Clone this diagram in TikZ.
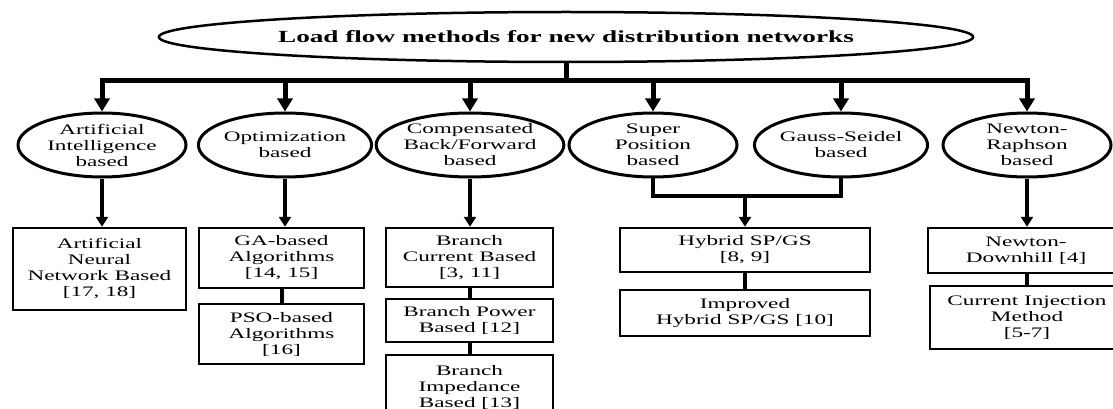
\documentclass[tikz,border=0pt]{standalone}
\usepackage{fontspec}
\setmainfont[FakeStretch=1.6]{Liberation Serif}
\newfontfamily\lf[FakeStretch=1.6]{Liberation Serif}
\usetikzlibrary{shapes.geometric,arrows.meta}
\tikzset{
  titlebox/.style={ellipse, draw, line width=2.5pt, minimum width=800pt, minimum height=50pt, inner sep=0pt,
    font=\fontsize{17}{20}\selectfont\lf\bfseries},
  lvl/.style={ellipse, draw, line width=3pt, minimum width=168pt, minimum height=64pt, inner sep=0pt,
    align=center, font=\fontsize{14.5}{16}\selectfont\lf},
  leaf/.style={rectangle, draw, line width=2.5pt, inner sep=0pt, align=center,
    font=\fontsize{14.5}{16}\selectfont\lf},
  bus/.style={line width=5pt, line cap=rect},
  bigarrow/.style={line width=5pt, -{Triangle[width=15pt,length=13pt]}},
  midarrow/.style={line width=3.5pt, -{Triangle[width=12pt,length=10pt]}},
  midline/.style={line width=3.5pt, line cap=rect},
  link/.style={line width=4pt},
}
\begin{document}
\begin{tikzpicture}[x=1pt,y=-1pt]
\fill[white] (0,0) rectangle (1113,409);
\clip (0,0) rectangle (1113,409);
% title
\node[titlebox] (t) at (566,37) {Load flow methods for new distribution networks};
% level 1
\node[lvl] (ai)  at (102,145) {Artificial\\Intelligence\\based};
\node[lvl] (opt) at (285,145) {Optimization\\based};
\node[lvl] (cbf) at (470,145) {Compensated\\Back/Forward\\based};
\node[lvl] (sp)  at (653,145) {Super\\Position\\based};
\node[lvl] (gs)  at (841,145) {Gauss-Seidel\\based};
\node[lvl] (nr)  at (1027,145) {Newton-\\Raphson\\based};
% leaves
\node[leaf, minimum width=173pt, minimum height=82pt] (ann) at (99.5,269) {Artificial\\Neural\\Network Based\\{[17, 18]}};
\node[leaf, minimum width=165pt, minimum height=60pt] (ga) at (281.5,258) {GA-based\\Algorithms\\{[14, 15]}};
\node[leaf, minimum width=165pt, minimum height=60pt] (pso) at (281.5,334) {PSO-based\\Algorithms\\{[16]}};
\node[leaf, minimum width=167pt, minimum height=59pt] (bc) at (469.5,257.5) {Branch\\Current Based\\{[3, 11]}};
\node[leaf, minimum width=167pt, minimum height=43pt] (bp) at (469.5,320.5) {Branch Power\\Based [12]};
\node[leaf, minimum width=167pt, minimum height=64pt] (bi) at (469.5,387) {Branch\\Impedance\\Based [13]};
\node[leaf, minimum width=250pt, minimum height=44pt] (hyb) at (745,250) {Hybrid SP/GS\\{[8, 9]}};
\node[leaf, minimum width=250pt, minimum height=46pt] (imp) at (745,313) {Improved\\Hybrid SP/GS [10]};
\node[leaf, minimum width=196pt, minimum height=45pt] (nd) at (1026,250.5) {Newton-\\Downhill [4]};
\node[leaf, minimum width=194pt, minimum height=63pt] (ci) at (1027,317.5) {Current Injection\\Method\\{[5-7]}};
% bus
\coordinate (busL) at (102,81);
\coordinate (busR) at (1027,81);
\coordinate (busM) at (566,81);
\draw[bus] (t.south) -- (busM);
\draw[bus] (busL) -- (busR);
\foreach \n in {ai,opt,cbf,sp,gs,nr}
  \draw[bigarrow] (\n.north |- busM) -- (\n.north);
% level 1 to leaves
\draw[midarrow] (ai.south) -- (ai.south |- ann.north);
\draw[midarrow] (opt.south) -- (opt.south |- ga.north);
\draw[midarrow] (cbf.south) -- (cbf.south |- bc.north);
\draw[midarrow] (nr.south) -- (nr.south |- nd.north);
\coordinate (j) at (745,196);
\draw[midline] (sp.south) -- (sp.south |- j) -- (gs.south |- j) -- (gs.south);
\draw[midarrow] (j) -- (hyb.north);
% stacks
\draw[link] (ga.south) -- (pso.north);
\draw[link] (bc.south) -- (bp.north);
\draw[link] (bp.south) -- (bi.north);
\draw[link] (hyb.south) -- (imp.north);
\draw[link] (nd.south -| ci.north) -- (ci.north);
\end{tikzpicture}
\end{document}
